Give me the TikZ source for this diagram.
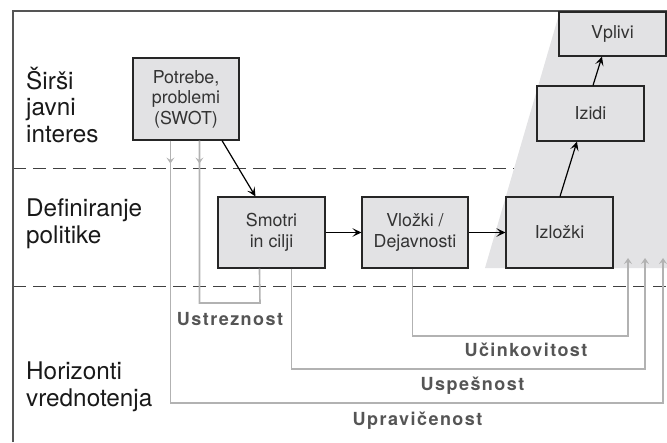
\documentclass[tikz,border=0pt]{standalone}
\usepackage{fontspec}
\setmainfont{TeX Gyre Heros}
\newfontfamily\glabfont[LetterSpace=8]{TeX Gyre Heros}
\usetikzlibrary{arrows.meta,calc}
\definecolor{boxfill}{HTML}{E2E2E4}
\definecolor{shadefill}{HTML}{E3E3E5}
\definecolor{gline}{HTML}{B2B2B2}
\definecolor{glabel}{HTML}{555555}
\definecolor{frameline}{HTML}{555555}
\begin{document}
\begin{tikzpicture}[x=1pt,y=-1pt,
 stepbox/.style={draw=black!85, line width=1.1pt, fill=boxfill, inner sep=0pt, align=center,
   font=\fontsize{17.8}{20.5}\selectfont, text=black!80},
 rowlabel/.style={anchor=base west, align=left, inner sep=0pt,
   font=\fontsize{24.3}{26.5}\selectfont, text=black!90},
 flow/.style={line width=1.2pt, -{Stealth[length=9pt,width=8.5pt,inset=4pt]}},
 gl/.style={draw=gline, line width=1.6pt},
 glarrow/.style={gl, -{Stealth[length=6pt,width=8pt,inset=2.5pt]}},
 glab/.style={font=\glabfont\bfseries\fontsize{18}{21}\selectfont, text=glabel, inner sep=0pt, anchor=base},
 dashline/.style={draw=black!75, line width=1pt, dash pattern=on 13pt off 7pt}
]
\useasboundingbox (0,0) rectangle (667,442);
% dashed separators
\draw[dashline] (13,168) -- (667,168);
\draw[dashline] (13,286) -- (667,286);
% shaded result area
\fill[shadefill] (485,268) -- (560,11) -- (667,11) -- (667,268) -- cycle;
% frame
\draw[frameline, line width=1.1pt] (13,442) -- (13,11) -- (667,11);

% row labels (anchor at baseline of last line)
\node[rowlabel] (l1) at (26,142) {Širši\\javni\\interes};
\node[rowlabel] (l2) at (26,243) {Definiranje\\politike};
\node[rowlabel] (l3) at (26,406) {Horizonti\\vrednotenja};

% boxes
\node[stepbox, minimum width=106pt, minimum height=82pt] (pot) at (186,99) {Potrebe,\\problemi\\(SWOT)};
\node[stepbox, minimum width=107pt, minimum height=71pt] (smo) at (271.5,232.5) {Smotri\\in cilji};
\node[stepbox, minimum width=106pt, minimum height=71pt] (vlo) at (415,232.5) {Vložki /\\Dejavnosti};
\node[stepbox, minimum width=107pt, minimum height=71pt] (izl) at (559.5,232.5) {Izložki};
\node[stepbox, minimum width=107pt, minimum height=55pt] (izi) at (590.5,113.5) {Izidi};
\node[stepbox, minimum width=107pt, minimum height=44pt] (vpl) at (612.5,34) {Vplivi};

% main flow
\draw[flow] ([xshift=36pt]pot.south) -- ([xshift=-16pt]smo.north);
\draw[flow] (smo.east) -- (vlo.west);
\draw[flow] (vlo.east) -- (izl.west);
\draw[flow] ([xshift=0.5pt]izl.north) -- ([xshift=-13.5pt]izi.south);
\draw[flow] ([xshift=2.5pt]izi.north) -- ([xshift=-10.5pt]vpl.south);

% evaluation horizons
\coordinate (e1) at (628,258);
\coordinate (e2) at (645,258);
\coordinate (e3) at (663,258);

\draw[gl] ([xshift=67pt]pot.south west) |- (260,303) -- ([xshift=42pt]smo.south west);
\draw[glarrow] ([xshift=67pt]pot.south west) -- ++(0,23);

\draw[glarrow] ([xshift=51pt]vlo.south west) |- ($(e1)+(0,78)$) -- (e1);
\draw[glarrow] ([xshift=74pt]smo.south west) |- ($(e2)+(0,111)$) -- (e2);
\draw[glarrow] ([xshift=38pt]pot.south west) |- ($(e3)+(0,145)$) -- (e3);
\draw[glarrow] ([xshift=38pt]pot.south west) -- ++(0,23);

% labels
\node[glab] (t1) at (230,325) {Ustreznost};
\node[glab] (t2) at (526,356.5) {Učinkovitost};
\node[glab] (t3) at (472.5,390) {Uspešnost};
\node[glab] (t4) at (417.5,425) {Upravičenost};
\end{tikzpicture}
\end{document}
